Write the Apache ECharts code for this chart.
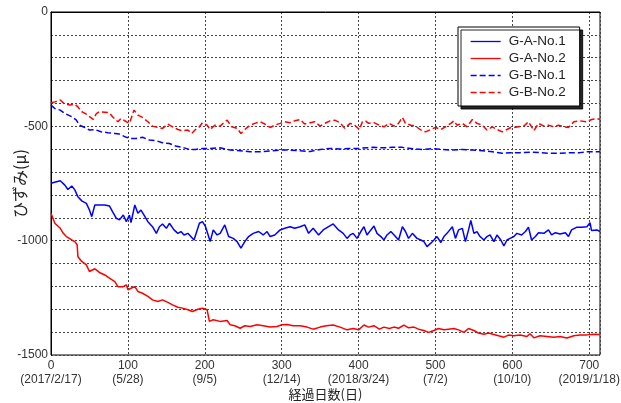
<!DOCTYPE html>
<html>
<head>
<meta charset="utf-8">
<script src="https://cdn.jsdelivr.net/npm/echarts@6/dist/echarts.min.js"></script>
<style>
html,body{margin:0;padding:0;background:#fff;}
#c{width:621px;height:403px;}
</style>
</head>
<body>
<div id="c"></div>
<script>
const xTickLabels = {0:'(2017/2/17)',100:'(5/28)',200:'(9/5)',300:'(12/14)',400:'(2018/3/24)',500:'(7/2)',600:'(10/10)',700:'(2019/1/18)'};
const seriesNames = ['G-A-No.1','G-A-No.2','G-B-No.1','G-B-No.2'];

const gaNo1Days = [0,12,18,22,27,31,35,40,46,50,53,57,63,70,76,80,85,89,94,98,102,104,109,113,117,121,126,132,137,141,145,150,154,160,165,169,173,178,186,193,197,201,205,207,211,216,220,226,231,237,242,247,252,257,263,270,276,281,285,291,298,304,311,317,324,330,335,341,348,354,361,367,374,380,385,389,393,398,403,407,411,416,420,424,429,433,437,442,448,452,457,461,465,470,476,481,485,489,494,498,502,507,511,515,522,526,530,535,539,543,546,550,554,558,563,567,571,576,580,585,589,593,597,602,606,612,617,621,625,630,634,641,647,651,656,662,669,673,677,684,690,697,701,703,710,714];
const gaNo1Vals = [-749,-738,-757,-776,-761,-778,-808,-826,-837,-866,-895,-844,-844,-844,-848,-873,-902,-909,-888,-917,-888,-921,-844,-880,-866,-888,-917,-939,-968,-939,-927,-946,-924,-953,-968,-960,-975,-968,-997,-924,-917,-939,-982,-1004,-953,-975,-968,-931,-982,-990,-1004,-1033,-1004,-982,-968,-960,-975,-960,-982,-975,-953,-946,-939,-946,-939,-931,-968,-946,-975,-953,-939,-927,-953,-968,-990,-975,-968,-990,-960,-939,-975,-953,-936,-968,-982,-997,-975,-960,-982,-997,-939,-960,-990,-968,-990,-997,-1004,-1026,-1011,-997,-982,-1008,-982,-968,-939,-990,-953,-946,-1004,-953,-912,-968,-960,-982,-997,-982,-975,-1004,-975,-997,-1023,-997,-990,-982,-968,-975,-960,-941,-997,-982,-965,-968,-953,-975,-965,-971,-965,-982,-953,-941,-941,-939,-921,-956,-953,-960];

const gaNo2Days = [0,5,12,16,20,27,31,34,35,40,46,50,57,63,70,76,83,87,94,98,100,104,109,113,119,126,132,139,145,152,158,165,171,178,184,191,197,203,205,206,211,220,229,233,239,246,252,259,268,276,285,294,300,307,315,324,333,341,350,358,367,376,385,393,400,407,413,420,427,433,440,446,452,459,465,472,478,485,491,498,504,511,517,524,530,537,543,550,556,563,569,576,582,589,595,602,610,619,623,628,636,645,654,662,671,680,688,697,706,714];
const gaNo2Vals = [-880,-924,-946,-968,-982,-997,-1004,-1018,-1070,-1091,-1106,-1135,-1123,-1139,-1150,-1164,-1179,-1201,-1201,-1193,-1215,-1208,-1201,-1222,-1230,-1244,-1259,-1266,-1259,-1270,-1281,-1291,-1295,-1302,-1310,-1300,-1295,-1302,-1310,-1353,-1346,-1353,-1349,-1368,-1372,-1383,-1372,-1375,-1368,-1372,-1378,-1375,-1368,-1367,-1372,-1372,-1378,-1387,-1378,-1372,-1369,-1378,-1390,-1384,-1390,-1369,-1378,-1372,-1387,-1378,-1384,-1378,-1383,-1369,-1381,-1378,-1387,-1393,-1401,-1393,-1384,-1390,-1387,-1384,-1390,-1401,-1384,-1393,-1404,-1409,-1404,-1410,-1416,-1422,-1413,-1416,-1413,-1419,-1407,-1425,-1416,-1419,-1422,-1419,-1426,-1416,-1413,-1412,-1409,-1410];

const gbNo1Days = [0,5,12,18,27,33,37,44,50,57,65,74,83,89,98,104,111,119,128,137,145,154,162,171,180,188,197,207,220,233,246,259,272,285,298,311,324,337,350,363,376,389,400,405,418,431,444,457,470,483,496,509,522,535,548,561,574,587,597,610,623,636,649,662,675,688,697,706,714];
const gbNo1Vals = [-407,-422,-429,-444,-458,-473,-495,-505,-516,-514,-524,-528,-531,-534,-548,-553,-553,-548,-560,-563,-572,-575,-586,-592,-601,-601,-597,-597,-594,-604,-607,-611,-611,-608,-604,-604,-607,-610,-601,-597,-599,-597,-597,-595,-592,-594,-592,-592,-598,-601,-598,-601,-604,-601,-604,-607,-611,-618,-615,-615,-613,-615,-618,-618,-615,-615,-611,-611,-611];

const gbNo2Days = [0,5,12,18,25,31,35,40,46,50,55,59,63,70,76,80,87,91,98,102,108,113,119,126,132,139,145,152,158,165,171,178,183,188,193,197,203,207,213,220,226,229,235,242,247,252,259,265,272,278,285,291,298,304,311,317,324,330,337,343,350,356,363,369,376,382,389,395,401,405,409,413,420,427,433,440,446,452,457,461,468,474,481,487,494,500,507,513,520,524,528,535,541,548,554,561,567,574,580,587,593,598,602,608,615,621,628,634,641,647,654,660,667,673,680,688,697,703,710,714];
const gbNo2Vals = [-397,-393,-385,-403,-407,-403,-415,-436,-447,-458,-470,-444,-436,-438,-441,-458,-480,-466,-480,-487,-429,-451,-461,-480,-499,-505,-509,-490,-502,-514,-519,-516,-531,-514,-502,-484,-495,-514,-495,-499,-480,-473,-502,-509,-531,-514,-495,-487,-480,-490,-505,-495,-487,-480,-484,-476,-470,-490,-484,-480,-499,-487,-476,-473,-484,-509,-487,-495,-514,-480,-476,-487,-484,-495,-502,-487,-499,-487,-461,-487,-495,-499,-516,-524,-514,-505,-514,-502,-487,-476,-495,-487,-502,-470,-487,-495,-516,-502,-514,-524,-514,-505,-505,-502,-499,-480,-519,-487,-499,-495,-502,-495,-502,-505,-480,-476,-480,-470,-466,-470];

function pairs(d, v){ return d.map((x,i)=>[x, v[i]]); }

const chart = echarts.init(document.getElementById('c'), null, {renderer:'canvas'});
const FONT = '"Liberation Sans", Arial, sans-serif';
const mk = (name, d, v, color, dashed) => ({
  name: name, type: 'line', data: pairs(d, v), symbol: 'none', showSymbol: false,
  lineStyle: {color: color, width: 1.5, type: dashed ? [6,3] : 'solid'},
  itemStyle: {color: color}, animation: false
});
chart.setOption({
  animation: false,
  backgroundColor: '#fff',
  grid: {left: 51, right: 21, top: 12, bottom: 48, show: true, borderColor: '#000', borderWidth: 1,
         containLabel: false, outerBoundsMode: 'none'},
  legend: {
    orient: 'vertical', left: 458, top: 27, itemWidth: 30, itemHeight: 10, itemGap: 2,
    padding: [7, 14, 6, 12],
    backgroundColor: '#fff', borderColor: '#000', borderWidth: 1,
    shadowColor: 'rgba(0,0,0,0.85)', shadowOffsetX: 3, shadowOffsetY: 3, shadowBlur: 0,
    itemStyle: {opacity: 0},
    lineStyle: {width: 1.3},
    textStyle: {fontFamily: FONT, fontSize: 13.5, color: '#222', padding: [0,0,0,3], lineHeight: 15},
    data: seriesNames
  },
  xAxis: {
    type: 'value', min: 0, max: 714, interval: 100,
    name: '経過日数(日)', nameLocation: 'middle', nameGap: 33, nameMoveOverlap: false,
    nameTextStyle: {fontFamily: '"Noto Sans CJK JP", sans-serif', fontSize: 13, color: '#222'},
    axisLine: {show: true, lineStyle: {color: '#000', width: 1}},
    axisTick: {show: false},
    axisLabel: {
      fontFamily: FONT, fontSize: 12, color: '#333', margin: 4, lineHeight: 14,
      formatter: v => (v % 100 === 0 && xTickLabels[v]) ? (v + '\n' + xTickLabels[v]) : ''
    },
    splitLine: {show: true, lineStyle: {color: '#444', type: [2,2], width: 1}}
  },
  yAxis: {
    type: 'value', min: -1500, max: 0, interval: 100,
    name: 'ひずみ(μ)', nameLocation: 'middle', nameGap: 23, nameRotate: 90, nameMoveOverlap: false,
    nameTextStyle: {fontFamily: '"Noto Sans CJK JP", sans-serif', fontSize: 16, color: '#222'},
    axisLine: {show: true, lineStyle: {color: '#000', width: 1}},
    axisTick: {show: false},
    axisLabel: {
      fontFamily: FONT, fontSize: 12, color: '#333', margin: 3,
      formatter: v => (v % 500 === 0) ? String(v) : ''
    },
    splitLine: {show: true, lineStyle: {color: '#444', type: [2,2], width: 1}}
  },
  series: [
    mk(seriesNames[0], gaNo1Days, gaNo1Vals, '#0000ff', false),
    mk(seriesNames[1], gaNo2Days, gaNo2Vals, '#ff0000', false),
    mk(seriesNames[2], gbNo1Days, gbNo1Vals, '#0000ff', true),
    mk(seriesNames[3], gbNo2Days, gbNo2Vals, '#ff0000', true)
  ]
});
</script>
</body>
</html>
